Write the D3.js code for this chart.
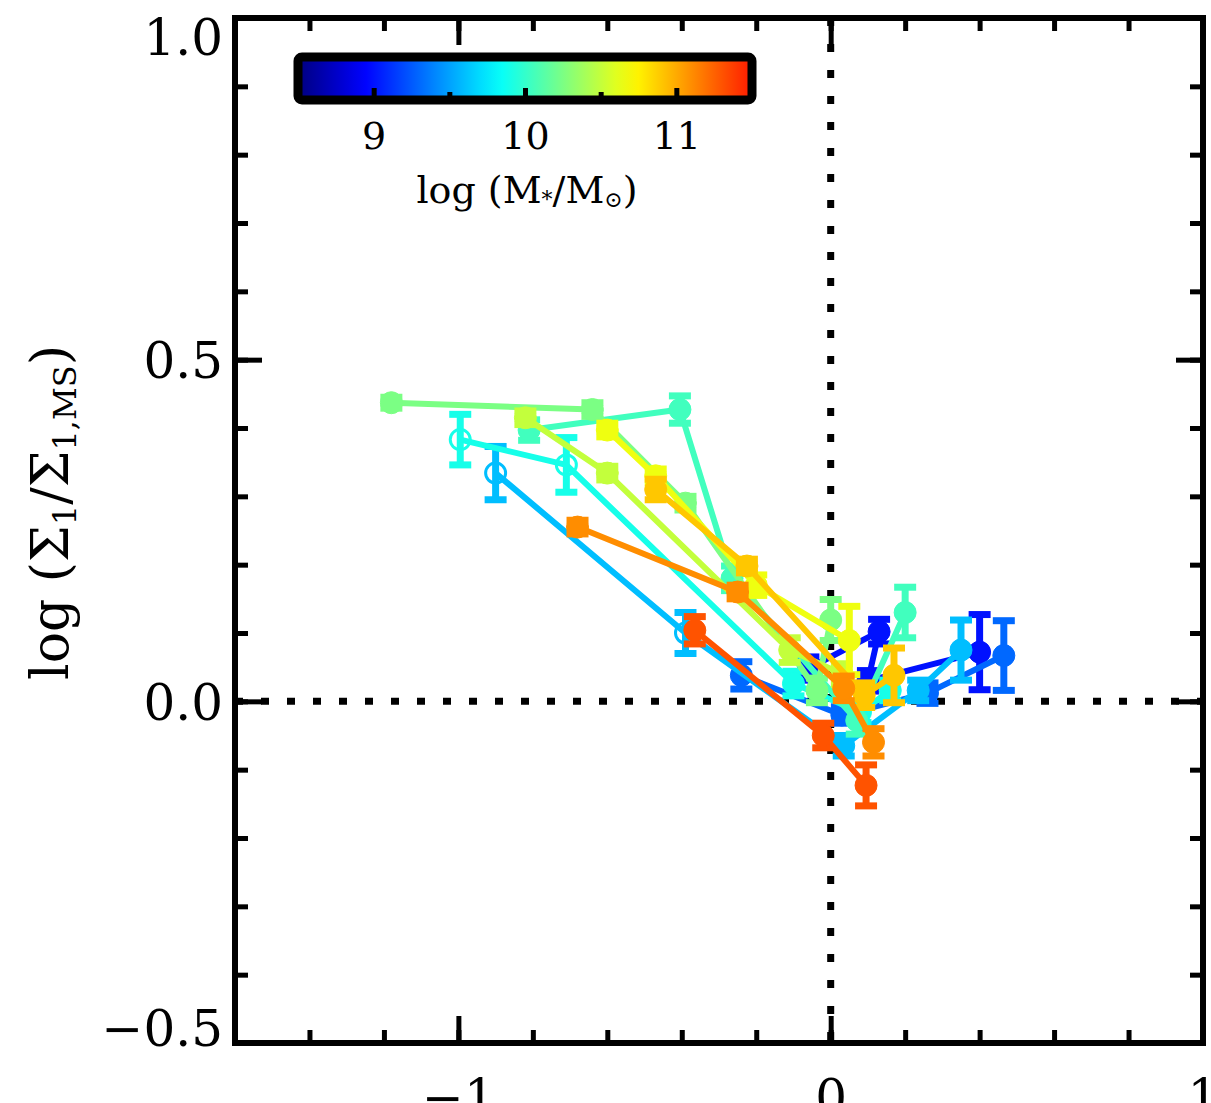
<!DOCTYPE html>
<html>
<head>
  <meta charset="utf-8">
  <title>sigma1 offset vs mass tracks</title>
  <script src="https://d3js.org/d3.v7.min.js"></script>
  <style>
    body { margin: 0; background: #fff; }
    text { font-family: "DejaVu Serif", "Liberation Serif", serif; fill: #000; }
  </style>
</head>
<body>
  <div id="chart"></div>
  <script>
    // one track per stellar-mass bin; colour comes from the mass
    var seriesMass = [9.0, 9.3, 9.6, 9.9, 10.05, 10.25, 10.5, 10.65, 10.9, 11.1, 11.3];

    var seriesX = [
      [-0.06, 0.13, 0.10, 0.40],
      [-0.24, 0.03, 0.26, 0.465],
      [-0.90, -0.39, 0.035, 0.235, 0.35],
      [-0.995, -0.71, -0.10, 0.08, 0.16],
      [-0.81, -0.405, -0.265, 0.07, 0.20],
      [-1.18, -0.64, -0.39, -0.037, 0.0],
      [-0.82, -0.60, -0.11, 0.03],
      [-0.60, -0.47, -0.20, 0.05],
      [-0.47, -0.225, 0.09, 0.17],
      [-0.68, -0.25, 0.035, 0.115],
      [-0.365, -0.02, 0.095]
    ];

    var seriesY = [
      [0.048, 0.102, 0.030, 0.072],
      [0.038, -0.020, 0.012, 0.067],
      [0.334, 0.100, -0.065, 0.016, 0.075],
      [0.383, 0.346, 0.026, -0.016, 0.016],
      [0.397, 0.427, 0.180, -0.028, 0.130],
      [0.437, 0.427, 0.290, 0.016, 0.119],
      [0.415, 0.334, 0.075, 0.040],
      [0.397, 0.330, 0.170, 0.089],
      [0.310, 0.198, 0.009, 0.038],
      [0.255, 0.160, 0.019, -0.060],
      [0.104, -0.050, -0.123]
    ];

    var seriesErr = [
      [0.017, 0.018, 0.015, 0.055],
      [0.020, 0.012, 0.015, 0.051],
      [0.039, 0.030, 0.015, 0.015, 0.044],
      [0.037, 0.040, 0.018, 0.015, 0.015],
      [0.015, 0.020, 0.018, 0.020, 0.037],
      [0.008, 0.010, 0.010, 0.018, 0.030],
      [0.010, 0.010, 0.018, 0.015],
      [0.010, 0.010, 0.015, 0.050],
      [0.015, 0.010, 0.018, 0.040],
      [0.010, 0.010, 0.018, 0.020],
      [0.020, 0.018, 0.030]
    ];

    // 1 = open symbol
    var seriesOpen = [
      [0, 0, 0, 0],
      [0, 0, 0, 0],
      [1, 1, 0, 0, 0],
      [1, 1, 0, 0, 0],
      [0, 0, 0, 0, 0],
      [0, 0, 0, 0, 0],
      [0, 0, 0, 0],
      [0, 0, 0, 0],
      [0, 0, 0, 0],
      [0, 0, 0, 0],
      [0, 0, 0]
    ];

    var xMajor = [-1, 0, 1];
    var yMajor = [-0.5, 0.0, 0.5, 1.0];
    var cbarTicks = [9, 10, 11];
    var cbarMinor = [9.5, 10.5];
    var massRange = [8.5, 11.5];

    var W = 1211, H = 1103;
    var pLeft = 235, pRight = 1203, pTop = 18, pBottom = 1043;

    var x = d3.scaleLinear().domain([-1.6, 1]).range([pLeft, pRight]);
    var y = d3.scaleLinear().domain([-0.5, 1]).range([pBottom, pTop]);

    // IDL-ish jet, only the lower ~85% of it is used
    function jet(s) {
      var c = function (v) { return Math.max(0, Math.min(1, v)); };
      var r = c(Math.min(4 * s - 1.5, -4 * s + 4.5));
      var g = c(Math.min(4 * s - 0.5, -4 * s + 3.5));
      var b = c(Math.min(4 * s + 0.5, -4 * s + 2.5));
      return d3.rgb(r * 255, g * 255, b * 255).formatHex();
    }
    function massColor(m) {
      var t = (m - massRange[0]) / (massRange[1] - massRange[0]);
      return jet(0.85 * t);
    }

    var svg = d3.select('#chart').append('svg')
      .attr('width', W)
      .attr('height', H);

    // dotted zero lines
    svg.append('line')
      .attr('x1', pLeft).attr('x2', pRight)
      .attr('y1', y(0)).attr('y2', y(0))
      .style('stroke', '#000').style('stroke-width', 7)
      .style('stroke-dasharray', '8,18');
    svg.append('line')
      .attr('x1', x(0)).attr('x2', x(0))
      .attr('y1', pTop).attr('y2', pBottom)
      .style('stroke', '#000').style('stroke-width', 7)
      .style('stroke-dasharray', '8,18');

    // tracks
    var line = d3.line()
      .x(function (d) { return x(d.x); })
      .y(function (d) { return y(d.y); });

    seriesMass.forEach(function (m, i) {
      var col = massColor(m);
      var pts = seriesX[i].map(function (v, j) {
        return { x: v, y: seriesY[i][j], e: seriesErr[i][j], open: seriesOpen[i][j] };
      });
      var g = svg.append('g').attr('class', 'track');

      g.append('path')
        .attr('d', line(pts))
        .style('fill', 'none')
        .style('stroke', col)
        .style('stroke-width', 6)
        .style('stroke-linejoin', 'round');

      var pt = g.selectAll('.pt').data(pts).enter().append('g').attr('class', 'pt');

      pt.append('line')
        .attr('x1', function (d) { return x(d.x); })
        .attr('x2', function (d) { return x(d.x); })
        .attr('y1', function (d) { return y(d.y + d.e); })
        .attr('y2', function (d) { return y(d.y - d.e); })
        .style('stroke', col).style('stroke-width', 7);

      [1, -1].forEach(function (sgn) {
        pt.append('line')
          .attr('x1', function (d) { return x(d.x) - 11; })
          .attr('x2', function (d) { return x(d.x) + 11; })
          .attr('y1', function (d) { return y(d.y + sgn * d.e); })
          .attr('y2', function (d) { return y(d.y + sgn * d.e); })
          .style('stroke', col).style('stroke-width', 7);
      });

      pt.append('circle')
        .attr('cx', function (d) { return x(d.x); })
        .attr('cy', function (d) { return y(d.y); })
        .attr('r', function (d) { return d.open ? 10 : 11; })
        .style('fill', function (d) { return d.open ? 'none' : col; })
        .style('stroke', col)
        .style('stroke-width', function (d) { return d.open ? 3 : 1; });
    });

    // frame
    svg.append('rect')
      .attr('x', pLeft).attr('y', pTop)
      .attr('width', pRight - pLeft).attr('height', pBottom - pTop)
      .style('fill', 'none').style('stroke', '#000').style('stroke-width', 6);

    function minorTicks(scale, step) {
      var d = scale.domain();
      return d3.range(Math.ceil(d[0] / step - 1e-9), Math.floor(d[1] / step + 1e-9) + 1)
        .map(function (k) { return +(k * step).toFixed(3); });
    }

    function styleAxis(g) {
      g.select('.domain').remove();
      g.selectAll('.tick line').style('stroke', '#000').style('stroke-width', 5);
      g.selectAll('.tick text')
        .style('font-family', '"DejaVu Serif", serif')
        .style('font-size', '50px')
        .style('fill', '#000');
    }

    // left / right
    svg.append('g').attr('transform', 'translate(' + pLeft + ',0)')
      .call(d3.axisLeft(y).tickValues(minorTicks(y, 0.1)).tickSize(-13).tickFormat(''))
      .call(styleAxis);
    svg.append('g').attr('transform', 'translate(' + pLeft + ',0)')
      .call(d3.axisLeft(y).tickValues(yMajor).tickSize(-27).tickPadding(12).tickFormat(d3.format('.1f')))
      .call(styleAxis)
      .selectAll('.tick text')
      // end labels sit inside the frame's height, as in the original
      .attr('dy', function (d) { return d === 1 ? '0.72em' : (d === -0.5 ? '0.05em' : '0.36em'); });
    svg.append('g').attr('transform', 'translate(' + pRight + ',0)')
      .call(d3.axisRight(y).tickValues(minorTicks(y, 0.1)).tickSize(-13).tickFormat(''))
      .call(styleAxis);
    svg.append('g').attr('transform', 'translate(' + pRight + ',0)')
      .call(d3.axisRight(y).tickValues(yMajor).tickSize(-27).tickFormat(''))
      .call(styleAxis);

    // bottom / top
    svg.append('g').attr('transform', 'translate(0,' + pBottom + ')')
      .call(d3.axisBottom(x).tickValues(minorTicks(x, 0.2)).tickSize(-13).tickFormat(''))
      .call(styleAxis);
    svg.append('g').attr('transform', 'translate(0,' + pBottom + ')')
      .call(d3.axisBottom(x).tickValues(xMajor).tickSize(-27).tickPadding(36).tickFormat(d3.format('d')))
      .call(styleAxis);
    svg.append('g').attr('transform', 'translate(0,' + pTop + ')')
      .call(d3.axisTop(x).tickValues(minorTicks(x, 0.2)).tickSize(-13).tickFormat(''))
      .call(styleAxis);
    svg.append('g').attr('transform', 'translate(0,' + pTop + ')')
      .call(d3.axisTop(x).tickValues(xMajor).tickSize(-27).tickFormat(''))
      .call(styleAxis);

    // y label
    var ylab = svg.append('text')
      .attr('transform', 'translate(68,' + ((pTop + pBottom) / 2 - 18) + ') rotate(-90)')
      .attr('text-anchor', 'middle')
      .style('font-size', '52px');
    ylab.append('tspan').text('log (Σ');
    ylab.append('tspan').attr('baseline-shift', '-25%').style('font-size', '32px').text('1');
    ylab.append('tspan').text('/Σ');
    ylab.append('tspan').attr('baseline-shift', '-25%').style('font-size', '32px').text('1,MS');
    ylab.append('tspan').text(')');

    // colour bar
    var cx0 = 298, cx1 = 752, cy0 = 57, cy1 = 100;
    var cb = d3.scaleLinear().domain(massRange).range([cx0, cx1]);
    var grad = svg.append('defs').append('linearGradient')
      .attr('id', 'massgrad').attr('x1', '0%').attr('x2', '100%');
    d3.range(0, 1.0001, 0.05).forEach(function (t) {
      grad.append('stop')
        .attr('offset', (t * 100) + '%')
        .attr('stop-color', massColor(massRange[0] + t * (massRange[1] - massRange[0])));
    });
    svg.append('rect')
      .attr('x', cx0).attr('y', cy0)
      .attr('width', cx1 - cx0).attr('height', cy1 - cy0)
      .attr('rx', 4)
      .style('fill', 'url(#massgrad)')
      .style('stroke', '#000').style('stroke-width', 9);

    svg.append('g').attr('transform', 'translate(0,' + (cy1 - 4) + ')')
      .call(d3.axisBottom(cb).tickValues(cbarTicks).tickSize(-8).tickPadding(26).tickFormat(d3.format('d')))
      .call(styleAxis)
      .selectAll('.tick text').style('font-size', '38px');
    svg.append('g').attr('transform', 'translate(0,' + (cy1 - 4) + ')')
      .call(d3.axisBottom(cb).tickValues(cbarMinor).tickSize(-4).tickFormat(''))
      .call(styleAxis);

    var clab = svg.append('text')
      .attr('x', (cx0 + cx1) / 2 + 2)
      .attr('y', 203)
      .attr('text-anchor', 'middle')
      .style('font-size', '38px');
    clab.append('tspan').text('log (M');
    clab.append('tspan').attr('baseline-shift', '-20%').style('font-size', '22px').text('*');
    clab.append('tspan').text('/M');
    clab.append('tspan').attr('baseline-shift', '-20%').style('font-size', '22px').text('⊙');
    clab.append('tspan').text(')');
  </script>
</body>
</html>
